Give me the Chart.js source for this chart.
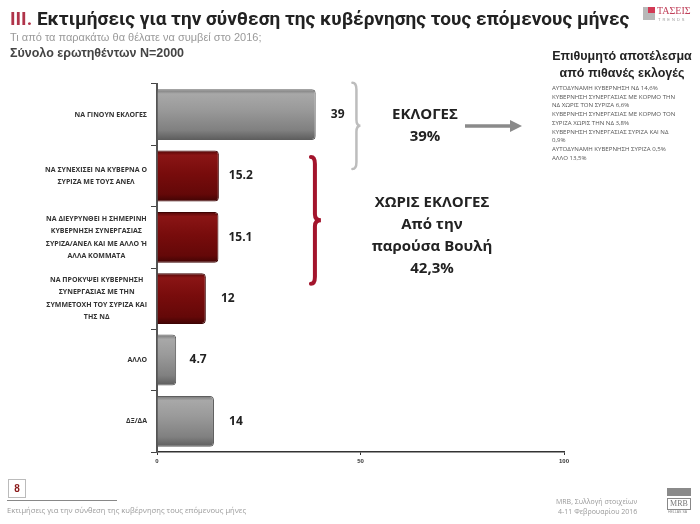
<!DOCTYPE html>
<html lang="el">
<head>
<meta charset="UTF-8">
<title>Εκτιμήσεις για την σύνθεση της κυβέρνησης</title>
<script src="https://cdn.jsdelivr.net/npm/chart.js"></script>
<style>
    body { margin: 0; background: #fff; font-family: "Open Sans", sans-serif; }
    .page { position: relative; width: 700px; height: 524px; overflow: hidden; }
    canvas { position: absolute; left: 0; top: 0; }
    .t { position: absolute; white-space: nowrap; }
    .title { left: 10px; top: 7px; font: bold 19px "Liberation Sans Narrow", "Roboto", sans-serif; color: #222; }
    .title span { color: #b0344a; }
    .sub { left: 10px; top: 31px; font: 11px "Liberation Sans Narrow", sans-serif; color: #9a9a9a; }
    .base { left: 10px; top: 46px; font: bold 12.5px "Liberation Sans Narrow", sans-serif; color: #444; }
    .head { left: 548px; width: 148px; top: 48px; text-align: center; font: bold 12.5px "Liberation Sans Narrow", sans-serif; color: #222; line-height: 17px; }
    .list { left: 552px; top: 84px; font: 6.1px "Open Sans", sans-serif; color: #555; line-height: 8.7px; }
    .ann { position: absolute; text-align: center; font: bold 15px "Open Sans", sans-serif; color: #222; line-height: 22px; }
    .pg { left: 8px; top: 479px; width: 16px; height: 17px; border: 1px solid #bbb; color: #8b1a1a; font: bold 10px sans-serif; text-align: center; line-height: 17px; }
    .rule { position: absolute; left: 7px; top: 500px; width: 110px; height: 1px; background: #888; }
    .foot { left: 7px; top: 505px; font: 7.6px "Open Sans", sans-serif; color: #999; }
    .src { left: 556px; top: 497px; font: 7px "Open Sans", sans-serif; color: #999; line-height: 10px; text-align: right; }
</style>
</head>
<body>
<div class="page">
    <canvas id="grafico" width="700" height="524"></canvas>

    <div class="t title"><span>III.</span> Εκτιμήσεις για την σύνθεση της κυβέρνησης τους επόμενους μήνες</div>
    <div class="t sub">Τι από τα παρακάτω θα θέλατε να συμβεί στο 2016;</div>
    <div class="t base">Σύνολο ερωτηθέντων Ν=2000</div>

    <div class="t head">Επιθυμητό αποτέλεσμα<br>από πιθανές εκλογές</div>
    <div class="t list">
        ΑΥΤΟΔΥΝΑΜΗ ΚΥΒΕΡΝΗΣΗ ΝΔ 14,6%<br>
        ΚΥΒΕΡΝΗΣΗ ΣΥΝΕΡΓΑΣΙΑΣ ΜΕ ΚΟΡΜΟ ΤΗΝ<br>
        ΝΔ ΧΩΡΙΣ ΤΟΝ ΣΥΡΙΖΑ 6,6%<br>
        ΚΥΒΕΡΝΗΣΗ ΣΥΝΕΡΓΑΣΙΑΣ ΜΕ ΚΟΡΜΟ ΤΟΝ<br>
        ΣΥΡΙΖΑ ΧΩΡΙΣ ΤΗΝ ΝΔ 3,8%<br>
        ΚΥΒΕΡΝΗΣΗ ΣΥΝΕΡΓΑΣΙΑΣ ΣΥΡΙΖΑ ΚΑΙ ΝΔ<br>
        0,9%<br>
        ΑΥΤΟΔΥΝΑΜΗ ΚΥΒΕΡΝΗΣΗ ΣΥΡΙΖΑ 0,5%<br>
        ΑΛΛΟ 13,5%
    </div>

    <div class="ann" style="left:365px; width:120px; top:102px;">ΕΚΛΟΓΕΣ<br>39%</div>
    <div class="ann" style="left:357px; width:150px; top:190px;">ΧΩΡΙΣ ΕΚΛΟΓΕΣ<br>Από την<br>παρούσα Βουλή<br>42,3%</div>

    <div class="t pg">8</div>
    <div class="rule"></div>
    <div class="t foot">Εκτιμήσεις για την σύνθεση της κυβέρνησης τους επόμενους μήνες</div>
    <div class="t src">MRB, Συλλογή στοιχείων<br>4-11 Φεβρουαρίου 2016</div>

    <!-- λογότυπα -->
    <div style="position:absolute; left:643px; top:7px; width:12px; height:13px; background:#b8b8b8;"></div>
    <div style="position:absolute; left:648px; top:7px; width:7px; height:6px; background:#d23a55;"></div>
    <div class="t" style="left:657px; top:5px; font:10px 'Liberation Serif', serif; color:#c0405a;">ΤΑΣΕΙΣ</div>
    <div class="t" style="left:658px; top:17px; font:4px sans-serif; color:#999; letter-spacing:2px;">TRENDS</div>
    <div style="position:absolute; left:667px; top:488px; width:24px; height:8px; background:#8a8a8a;"></div>
    <div class="t" style="left:667px; top:498px; width:22px; height:10px; border:1px solid #888; font:8px 'Liberation Serif', serif; color:#777; text-align:center; line-height:10px;">MRB</div>
    <div class="t" style="left:668px; top:510px; font:3.5px sans-serif; color:#888;">HELLAS SA</div>
</div>

<script>
    // dados do gráfico
    const categorias = [
        ["ΝΑ ΓΙΝΟΥΝ ΕΚΛΟΓΕΣ"],
        ["ΝΑ ΣΥΝΕΧΙΣΕΙ ΝΑ ΚΥΒΕΡΝΑ Ο", "ΣΥΡΙΖΑ ΜΕ ΤΟΥΣ ΑΝΕΛ"],
        ["ΝΑ ΔΙΕΥΡΥΝΘΕΙ Η ΣΗΜΕΡΙΝΗ", "ΚΥΒΕΡΝΗΣΗ ΣΥΝΕΡΓΑΣΙΑΣ", "ΣΥΡΙΖΑ/ΑΝΕΛ ΚΑΙ ΜΕ ΑΛΛΟ Ή", "ΑΛΛΑ ΚΟΜΜΑΤΑ"],
        ["ΝΑ ΠΡΟΚΥΨΕΙ ΚΥΒΕΡΝΗΣΗ", "ΣΥΝΕΡΓΑΣΙΑΣ ΜΕ ΤΗΝ", "ΣΥΜΜΕΤΟΧΗ ΤΟΥ ΣΥΡΙΖΑ ΚΑΙ", "ΤΗΣ ΝΔ"],
        ["ΑΛΛΟ"],
        ["ΔΞ/ΔΑ"]
    ];
    const valores = [39, 15.2, 15.1, 12, 4.7, 14];
    const rotulosValor = ["39", "15.2", "15.1", "12", "4.7", "14"];
    const ticksX = [0, 50, 100];

    // estilo
    const tons = ["cinza", "vermelho", "vermelho", "vermelho", "cinza", "cinza"];

    function gradiente(c) {
        const chart = c.chart;
        const tom = tons[c.dataIndex];
        const base = tom === "cinza" ? "#8c8c8c" : "#7a0c0c";
        const y = chart.scales.y;
        if (!chart.chartArea || !y) return base;
        const cy = y.getPixelForValue(c.dataIndex);
        const g = chart.ctx.createLinearGradient(0, cy - 26, 0, cy + 26);
        if (tom === "cinza") {
            g.addColorStop(0, "#6e6e6e");
            g.addColorStop(0.1, "#a8a8a8");
            g.addColorStop(0.4, "#9a9a9a");
            g.addColorStop(0.8, "#808080");
            g.addColorStop(1, "#5a5a5a");
        } else {
            g.addColorStop(0, "#4a0404");
            g.addColorStop(0.1, "#8a1515");
            g.addColorStop(0.45, "#780c0c");
            g.addColorStop(0.85, "#640808");
            g.addColorStop(1, "#3e0303");
        }
        return g;
    }

    function chave(ctx, x, topo, fundo, cor, largura, nariz) {
        const meio = (topo + fundo) / 2;
        ctx.beginPath();
        ctx.moveTo(x - 4, topo);
        ctx.quadraticCurveTo(x, topo, x, topo + 7);
        ctx.lineTo(x, meio - 6);
        ctx.quadraticCurveTo(x, meio, x + nariz, meio);
        ctx.quadraticCurveTo(x, meio, x, meio + 6);
        ctx.lineTo(x, fundo - 7);
        ctx.quadraticCurveTo(x, fundo, x - 4, fundo);
        ctx.strokeStyle = cor;
        ctx.lineWidth = largura;
        ctx.lineCap = "round";
        ctx.stroke();
    }

    const decoracao = {
        id: "decoracao",
        afterDraw(chart) {
            const { ctx, scales: { x, y } } = chart;
            ctx.save();

            // rótulos das categorias
            ctx.font = "bold 7px 'Open Sans'";
            ctx.fillStyle = "#333";
            ctx.textAlign = "center";
            ctx.textBaseline = "middle";
            categorias.forEach((linhas, i) => {
                const w = Math.max(...linhas.map(l => ctx.measureText(l).width));
                const cx = x.left - 10 - w / 2;
                const cy = y.getPixelForValue(i);
                linhas.forEach((l, k) => ctx.fillText(l, cx, cy + (k - (linhas.length - 1) / 2) * 12.4));
            });

            // valores
            ctx.font = "bold 12px 'Open Sans'";
            ctx.fillStyle = "#222";
            chart.getDatasetMeta(0).data.forEach((el, i) => {
                ctx.fillText(rotulosValor[i], el.x + 22, el.y);
            });

            // chaves
            chave(ctx, x.getPixelForValue(49), y.getPixelForValue(0) - 32, y.getPixelForValue(1) - 7, "#bdbdbd", 2.5, 4);
            chave(ctx, x.getPixelForValue(38.8), y.getPixelForValue(1) - 19, y.getPixelForValue(3) - 15, "#a3142c", 4, 6);

            // seta
            ctx.beginPath();
            ctx.moveTo(465, 126);
            ctx.lineTo(512, 126);
            ctx.strokeStyle = "#8a8a8a";
            ctx.lineWidth = 3.5;
            ctx.lineCap = "butt";
            ctx.stroke();
            ctx.beginPath();
            ctx.moveTo(510, 120);
            ctx.lineTo(522, 126);
            ctx.lineTo(510, 132);
            ctx.closePath();
            ctx.fillStyle = "#8a8a8a";
            ctx.fill();

            ctx.restore();
        }
    };

    new Chart(document.getElementById("grafico"), {
        type: "bar",
        data: {
            labels: categorias,
            datasets: [{
                data: valores,
                backgroundColor: gradiente,
                borderColor: c => tons[c.dataIndex] === "cinza" ? "#5e5e5e" : "#3e0303",
                borderWidth: 1,
                borderSkipped: "start",
                borderRadius: { topRight: 4, bottomRight: 4 },
                barPercentage: 0.83,
                categoryPercentage: 1
            }]
        },
        options: {
            indexAxis: "y",
            responsive: false,
            devicePixelRatio: 1,
            animation: false,
            events: [],
            layout: { padding: { top: 84, right: 136, bottom: 50, left: 0 } },
            plugins: { legend: { display: false }, tooltip: { enabled: false } },
            scales: {
                x: {
                    min: 0,
                    max: 100,
                    afterBuildTicks: s => { s.ticks = ticksX.map(v => ({ value: v })); },
                    afterFit: s => { s.height = 22; },
                    grid: { drawOnChartArea: false, tickLength: 3, color: "#333" },
                    border: { color: "#333", width: 1.5 },
                    ticks: { font: { size: 6, weight: "bold" }, color: "#333", padding: 3 }
                },
                y: {
                    afterFit: s => { s.width = 157; },
                    grid: { drawOnChartArea: false, tickLength: 6, color: "#444", offset: true },
                    border: { color: "#555", width: 2 },
                    ticks: { display: false }
                }
            }
        },
        plugins: [decoracao]
    });
</script>
</body>
</html>
